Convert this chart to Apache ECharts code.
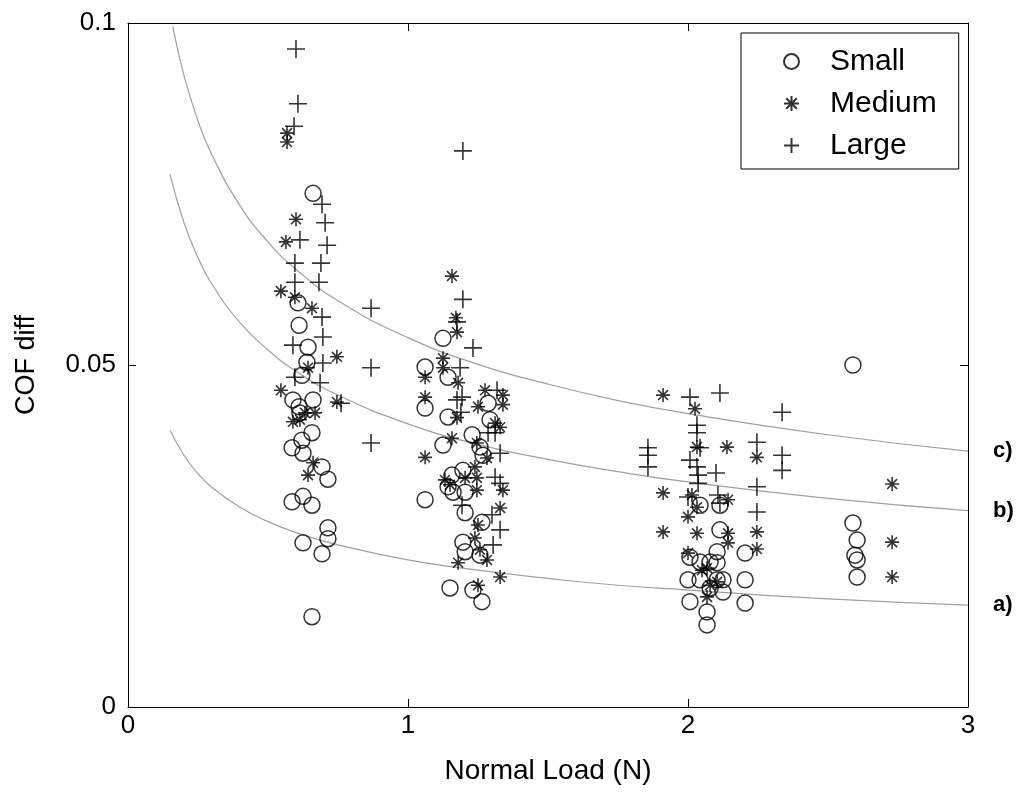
<!DOCTYPE html>
<html>
<head>
<meta charset="utf-8">
<script src="https://cdn.jsdelivr.net/npm/echarts@6/dist/echarts.min.js"></script>
<style>html,body{margin:0;padding:0;background:#fff}#c{width:1023px;height:792px}</style>
</head>
<body>
<div id="c"></div>
<script>
// ---- data ----
const xTicks = [0, 1, 2, 3];
const yTicks = [0, 0.05, 0.1];

const smallPts = [
  [0.661,0.0751],[0.607,0.0591],[0.611,0.0558],[0.643,0.0526],[0.639,0.0504],[0.621,0.0485],
  [0.589,0.0449],[0.661,0.0449],[0.611,0.0439],[0.614,0.0430],[0.657,0.0401],[0.621,0.0390],
  [0.586,0.0379],[0.625,0.0371],[0.693,0.0351],[0.714,0.0333],[0.586,0.0300],[0.625,0.0308],
  [0.657,0.0295],[0.714,0.0262],[0.714,0.0246],[0.625,0.0240],[0.693,0.0224],[0.657,0.0132],
  [1.125,0.0539],[1.061,0.0497],[1.143,0.0482],[1.061,0.0437],[1.143,0.0424],[1.286,0.0444],
  [1.293,0.0420],[1.229,0.0398],[1.125,0.0383],[1.257,0.0380],[1.268,0.0368],[1.157,0.0339],
  [1.196,0.0346],[1.143,0.0322],[1.161,0.0314],[1.204,0.0314],[1.061,0.0303],[1.204,0.0284],
  [1.264,0.0270],[1.196,0.0241],[1.204,0.0227],[1.257,0.0222],[1.150,0.0174],[1.232,0.0171],
  [1.264,0.0154],
  [2.043,0.0295],[2.114,0.0295],[2.114,0.0259],[2.104,0.0227],[2.007,0.0219],[2.043,0.0212],
  [2.079,0.0212],[2.104,0.0211],[2.000,0.0186],[2.043,0.0186],[2.104,0.0186],[2.125,0.0186],
  [2.079,0.0174],[2.125,0.0168],[2.007,0.0154],[2.068,0.0139],[2.068,0.0120],[2.204,0.0225],
  [2.204,0.0186],[2.204,0.0152],
  [2.589,0.0500],[2.589,0.0269],[2.604,0.0244],[2.596,0.0222],[2.604,0.0215],[2.604,0.0190]
];

const mediumPts = [
  [0.568,0.0839],[0.568,0.0826],[0.600,0.0713],[0.564,0.0680],[0.546,0.0608],[0.596,0.0599],
  [0.657,0.0583],[0.746,0.0512],[0.643,0.0496],[0.546,0.0463],[0.746,0.0446],[0.632,0.0430],
  [0.668,0.0430],[0.614,0.0420],[0.589,0.0417],[0.661,0.0357],[0.643,0.0339],
  [1.157,0.0630],[1.171,0.0569],[1.175,0.0548],[1.125,0.0510],[1.125,0.0496],[1.061,0.0482],
  [1.061,0.0453],[1.179,0.0474],[1.275,0.0463],[1.339,0.0456],[1.250,0.0439],[1.339,0.0442],
  [1.175,0.0423],[1.311,0.0415],[1.329,0.0409],[1.157,0.0393],[1.061,0.0365],[1.246,0.0386],
  [1.282,0.0364],[1.239,0.0351],[1.132,0.0332],[1.150,0.0325],[1.246,0.0335],[1.246,0.0317],
  [1.339,0.0317],[1.329,0.0291],[1.250,0.0266],[1.239,0.0247],[1.257,0.0230],[1.282,0.0215],
  [1.179,0.0211],[1.329,0.0190],[1.250,0.0178],[1.204,0.0335],
  [1.911,0.0456],[2.025,0.0436],[2.032,0.0380],[2.139,0.0380],[1.911,0.0313],[2.014,0.0310],
  [2.032,0.0292],[2.000,0.0278],[1.911,0.0256],[2.032,0.0254],[2.000,0.0225],[2.050,0.0200],
  [2.068,0.0203],[2.079,0.0178],[2.104,0.0183],[2.068,0.0161],[2.143,0.0303],[2.246,0.0365],
  [2.246,0.0256],[2.143,0.0254],[2.246,0.0231],[2.143,0.0240],
  [2.729,0.0326],[2.729,0.0241],[2.729,0.0190]
];

const largePts = [
  [0.600,0.0962],[0.607,0.0882],[0.593,0.0849],[0.693,0.0735],[0.704,0.0708],[0.614,0.0683],
  [0.711,0.0675],[0.596,0.0649],[0.689,0.0649],[0.596,0.0621],[0.682,0.0621],[0.693,0.0570],
  [0.589,0.0529],[0.696,0.0541],[0.696,0.0503],[0.686,0.0474],[0.596,0.0482],[0.868,0.0583],
  [0.868,0.0496],[0.868,0.0386],[0.761,0.0444],
  [1.196,0.0813],[1.196,0.0596],[1.232,0.0525],[1.175,0.0563],[1.186,0.0496],[1.193,0.0453],
  [1.175,0.0449],[1.318,0.0463],[1.311,0.0401],[1.286,0.0401],[1.329,0.0371],[1.311,0.0336],
  [1.329,0.0327],[1.300,0.0281],[1.329,0.0259],[1.304,0.0237],[1.193,0.0295],[1.189,0.0431],
  [2.007,0.0453],[2.114,0.0459],[2.032,0.0412],[2.032,0.0401],[1.857,0.0379],[1.857,0.0368],
  [1.857,0.0351],[2.043,0.0379],[2.007,0.0361],[2.032,0.0351],[2.036,0.0339],[2.100,0.0342],
  [2.036,0.0327],[2.000,0.0307],[2.107,0.0310],[2.114,0.0298],[2.336,0.0431],[2.246,0.0387],
  [2.336,0.0368],[2.336,0.0346],[2.246,0.0322],[2.246,0.0285]
];

// reference curves
const curveAX = [0.15,0.2,0.25,0.3,0.4,0.5,0.6,0.75,1,1.25,1.5,1.75,2,2.5,3];
const curveAY = [0.0405,0.0368,0.0341,0.0321,0.0292,0.0271,0.0255,0.0237,0.0215,0.0200,0.0188,0.0178,0.0171,0.0158,0.0149];
const curveBX = [0.15,0.2,0.25,0.3,0.4,0.5,0.6,0.75,1,1.25,1.5,1.75,2,2.5,3];
const curveBY = [0.0779,0.0708,0.0657,0.0618,0.0562,0.0522,0.0491,0.0456,0.0414,0.0384,0.0362,0.0344,0.0329,0.0305,0.0287];
const curveCX = [0.16,0.2,0.25,0.3,0.4,0.5,0.6,0.75,1,1.25,1.5,1.75,2,2.5,3];
const curveCY = [0.0995,0.0923,0.0857,0.0807,0.0733,0.0680,0.0640,0.0594,0.0540,0.0501,0.0472,0.0448,0.0429,0.0398,0.0374];
const curveLabels = ['a)', 'b)', 'c)'];
const seriesNames = ['Small', 'Medium', 'Large'];

// ---- chart ----
const FONT = 'Liberation Sans, Arial, sans-serif';
const zip = (xs, ys) => xs.map((x, i) => [x, ys[i]]);
const chart = echarts.init(document.getElementById('c'));

const axisCommon = {
  type: 'value',
  axisLine: { show: true, onZero: false, lineStyle: { color: '#000', width: 1 } },
  axisTick: { show: true, inside: true, length: 8, lineStyle: { color: '#000' } },
  splitLine: { show: false }
};

function curve(xs, ys, label) {
  return {
    type: 'line', data: zip(xs, ys), smooth: true, symbol: 'none', silent: true, z: 1,
    lineStyle: { color: '#a0a0a0', width: 1.2 },
    endLabel: { show: true, formatter: label, distance: 25, fontSize: 22, fontWeight: 'bold', color: '#000', fontFamily: FONT }
  };
}

const plusPath = 'path://M0,-1L0,1M-1,0L1,0';
const starPath = 'path://M0,-1L0,1M-1,0L1,0M-0.7071,-0.7071L0.7071,0.7071M-0.7071,0.7071L0.7071,-0.7071';

chart.setOption({
  animation: false,
  backgroundColor: '#fff',
  grid: { left: 128, top: 23, width: 840, height: 684 },
  xAxis: [
    Object.assign({}, axisCommon, {
      min: xTicks[0], max: xTicks[xTicks.length - 1], interval: 1,
      axisLabel: { color: '#000', fontSize: 26, fontFamily: FONT, margin: 6 },
      name: 'Normal Load (N)', nameLocation: 'middle', nameGap: 50,
      nameTextStyle: { color: '#000', fontSize: 28, fontFamily: FONT }
    }),
    Object.assign({}, axisCommon, {
      position: 'top', min: xTicks[0], max: xTicks[xTicks.length - 1], interval: 1,
      axisLabel: { show: false }
    })
  ],
  yAxis: [
    Object.assign({}, axisCommon, {
      min: yTicks[0], max: yTicks[yTicks.length - 1], interval: 0.05,
      axisLabel: { color: '#000', fontSize: 26, fontFamily: FONT, margin: 12,
        formatter: v => (v === 0 ? '0' : String(+v.toFixed(2))) },
      name: 'COF diff', nameLocation: 'middle', nameGap: 88,
      nameTextStyle: { color: '#000', fontSize: 27, fontFamily: FONT }
    }),
    Object.assign({}, axisCommon, {
      position: 'right', min: yTicks[0], max: yTicks[yTicks.length - 1], interval: 0.05,
      axisLabel: { show: false }
    })
  ],
  legend: {
    data: seriesNames,
    orient: 'vertical', left: 741, top: 33,
    backgroundColor: '#fff', borderColor: '#000', borderWidth: 1,
    padding: [13, 22, 8, 42],
    itemWidth: 15, itemHeight: 15, itemGap: 11,
    textStyle: { color: '#000', fontSize: 30, fontFamily: FONT, lineHeight: 31, padding: [0, 0, 0, 26] }
  },
  series: [
    curve(curveAX, curveAY, curveLabels[0]),
    curve(curveBX, curveBY, curveLabels[1]),
    curve(curveCX, curveCY, curveLabels[2]),
    {
      name: seriesNames[0], type: 'scatter', data: smallPts, symbol: 'circle', symbolSize: 16, z: 3,
      itemStyle: { color: 'rgba(255,255,255,0)', borderColor: '#000', borderWidth: 1.5 }
    },
    {
      name: seriesNames[1], type: 'scatter', data: mediumPts, symbol: starPath, symbolSize: 14, z: 3,
      itemStyle: { color: '#000', borderColor: '#000', borderWidth: 1.6 }
    },
    {
      name: seriesNames[2], type: 'scatter', data: largePts, symbol: plusPath, symbolSize: 18, z: 3,
      itemStyle: { color: '#000', borderColor: '#000', borderWidth: 1.6 }
    }
  ]
});
</script>
</body>
</html>
